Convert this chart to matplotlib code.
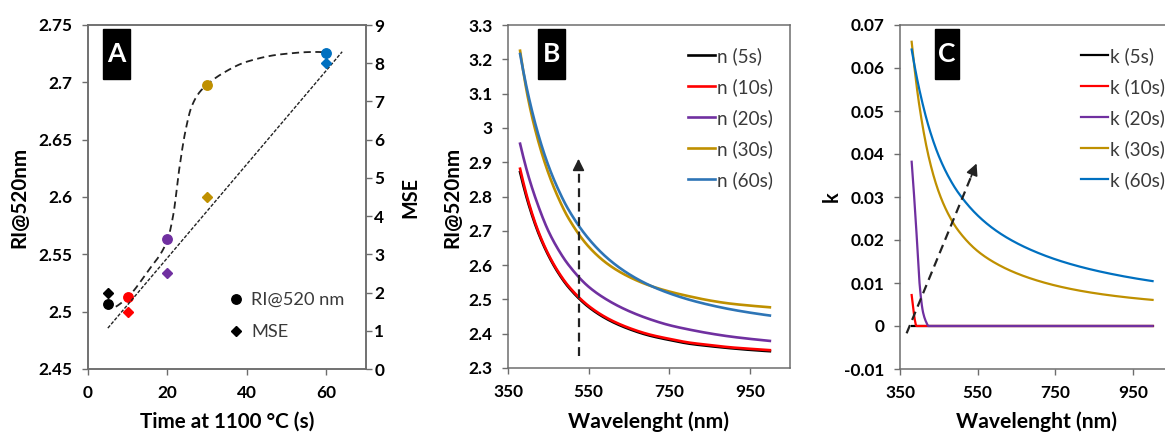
import numpy as np
import matplotlib
matplotlib.use("Agg")
import matplotlib.pyplot as plt
from matplotlib.patches import Rectangle
from matplotlib.lines import Line2D

# ---------------- Panel A data ----------------
time_s = [5, 10, 20, 30, 60]
ri_520 = [2.507, 2.513, 2.563, 2.698, 2.726]
mse = [2.0, 1.5, 2.5, 4.5, 8.0]
point_colors = ['#000000', '#FF0000', '#7030A0', '#BF9000', '#0070C0']
# dashed guide curve
guide_t = [7.0, 10, 15, 20, 21.5, 23, 24.5, 26, 28, 30, 33.5, 40, 48.5, 57, 60]
guide_ri = [2.5043, 2.5125, 2.535, 2.5625, 2.585, 2.625, 2.657, 2.678, 2.691,
            2.698, 2.707, 2.718, 2.7244, 2.7265, 2.7262]
# dotted linear trend on the MSE axis (end points)
trend_t = [5, 64]
trend_mse = [1.07, 8.30]
a_xticks = [0, 20, 40, 60]
a_xticklabels = ['0', '20', '40', '60']
a_yticks = [2.45, 2.5, 2.55, 2.6, 2.65, 2.7, 2.75]
a_yticklabels = ['2.45', '2.5', '2.55', '2.6', '2.65', '2.7', '2.75']
a_y2ticks = [0, 1, 2, 3, 4, 5, 6, 7, 8, 9]
a_y2ticklabels = ['0', '1', '2', '3', '4', '5', '6', '7', '8', '9']

# ---------------- Panel B data ----------------
wl = [380, 400, 425, 450, 475, 500, 550, 600, 650, 700, 750, 800, 850, 900, 950, 1000]
n_5s = [2.871, 2.782, 2.695, 2.629, 2.577, 2.536, 2.478, 2.440, 2.414, 2.395,
        2.382, 2.371, 2.364, 2.358, 2.353, 2.349]
n_10s = [2.881, 2.788, 2.699, 2.632, 2.580, 2.539, 2.481, 2.443, 2.417, 2.398,
         2.385, 2.374, 2.367, 2.3605, 2.356, 2.352]
n_20s = [2.954, 2.8625, 2.773, 2.700, 2.645, 2.601, 2.537, 2.496, 2.466, 2.443,
         2.425, 2.412, 2.401, 2.392, 2.385, 2.379]
n_30s = [3.225, 3.085, 2.962, 2.869, 2.796, 2.737, 2.654, 2.601, 2.566, 2.541,
         2.523, 2.509, 2.497, 2.488, 2.482, 2.477]
n_60s = [3.2155, 3.0976, 2.9816, 2.891, 2.820, 2.762, 2.677, 2.617, 2.574, 2.542,
         2.518, 2.499, 2.484, 2.4716, 2.4615, 2.453]
n_labels = ['n (5s)', 'n (10s)', 'n (20s)', 'n (30s)', 'n (60s)']
b_xticks = [350, 550, 750, 950]
b_xticklabels = ['350', '550', '750', '950']
b_yticks = [2.3, 2.4, 2.5, 2.6, 2.7, 2.8, 2.9, 3.0, 3.1, 3.2, 3.3]
b_yticklabels = ['2.3', '2.4', '2.5', '2.6', '2.7', '2.8', '2.9', '3', '3.1', '3.2', '3.3']
b_arrow_wl = 525
b_arrow_n = [2.335, 2.91]

# ---------------- Panel C data ----------------
k5_wl = [380, 1000]
k_5s = [0.0, 0.0]
k10_wl = [380, 384, 388, 392, 1000]
k_10s = [0.0072, 0.0042, 0.0015, 0.0, 0.0]
k20_wl = [380, 389, 397, 401, 410, 419, 423, 1000]
k_20s = [0.0382, 0.0266, 0.0149, 0.0091, 0.0029, 0.0006, 0.0, 0.0]
k_30s = [0.0661, 0.0511, 0.0389, 0.0311, 0.0259, 0.0222, 0.0174, 0.0144, 0.01226,
         0.01066, 0.00941, 0.00843, 0.00765, 0.00702, 0.0065, 0.00607]
k_60s = [0.0643, 0.0549, 0.0460, 0.0395, 0.0347, 0.0310, 0.0257, 0.0220, 0.0193,
         0.0172, 0.0155, 0.01412, 0.01297, 0.0120, 0.01116, 0.01044]
k_labels = ['k (5s)', 'k (10s)', 'k (20s)', 'k (30s)', 'k (60s)']
c_yticks = [-0.01, 0, 0.01, 0.02, 0.03, 0.04, 0.05, 0.06, 0.07]
c_yticklabels = ['-0.01', '0', '0.01', '0.02', '0.03', '0.04', '0.05', '0.06', '0.07']
c_arrow_wl = [367, 547]
c_arrow_k = [-0.0017, 0.0378]

series_colors = ['#000000', '#FF0000', '#7030A0', '#BF9000', '#2E75B6']
series_colors_c = ['#000000', '#FF0000', '#7030A0', '#BF9000', '#0070C0']


def smooth(x, y, num=400):
    """Monotone cubic (PCHIP-like) smoothing for drawing, like a smoothed line."""
    x = np.asarray(x, float)
    y = np.asarray(y, float)
    if len(x) < 3:
        return x, y
    h = np.diff(x)
    d = np.diff(y) / h
    m = np.zeros_like(y)
    for i in range(1, len(x) - 1):
        if d[i - 1] * d[i] > 0:
            w1 = 2 * h[i] + h[i - 1]
            w2 = h[i] + 2 * h[i - 1]
            m[i] = (w1 + w2) / (w1 / d[i - 1] + w2 / d[i])
    m0 = ((2 * h[0] + h[1]) * d[0] - h[0] * d[1]) / (h[0] + h[1])
    if np.sign(m0) != np.sign(d[0]):
        m0 = 0
    m[0] = m0
    mn = ((2 * h[-1] + h[-2]) * d[-1] - h[-1] * d[-2]) / (h[-1] + h[-2])
    if np.sign(mn) != np.sign(d[-1]):
        mn = 0
    m[-1] = mn
    xn = np.linspace(x[0], x[-1], num)
    idx = np.clip(np.searchsorted(x, xn) - 1, 0, len(h) - 1)
    t = (xn - x[idx]) / h[idx]
    h00 = 2 * t**3 - 3 * t**2 + 1
    h10 = t**3 - 2 * t**2 + t
    h01 = -2 * t**3 + 3 * t**2
    h11 = t**3 - t**2
    yn = h00 * y[idx] + h10 * h[idx] * m[idx] + h01 * y[idx + 1] + h11 * h[idx] * m[idx + 1]
    return xn, yn


plt.rcParams['font.family'] = ['Lato', 'DejaVu Sans']
W, H = 1165, 434
fig = plt.figure(figsize=(W / 100, H / 100), dpi=100)
renderer = fig.canvas.get_renderer()
TICKW = 'bold'


def fit_fs(s, target_px, weight='bold', rotation=0, base=12.0):
    """Font size such that the string spans target_px pixels."""
    t = fig.text(0, 0, s, fontsize=base, fontweight=weight, rotation=rotation)
    bb = t.get_window_extent(renderer)
    t.remove()
    span = bb.height if rotation else bb.width
    return base * target_px / span


def fx(px):
    return px / W


def fy(py):
    return 1 - py / H


def make_axes(l, r, t, b):
    return fig.add_axes([fx(l), fy(b), fx(r) - fx(l), fy(t) - fy(b)])


SPINE = '#6d6d6d'
TICKFS = fit_fs('2.75', 34, weight=TICKW)
LEGFS = fit_fs('n (10s)', 55, weight='normal')
LEGA_FS = fit_fs('RI@520 nm', 93, weight='normal')
TXT = '#3a3a3a'


def style(ax, xt=None, xl=None, yt=None, yl=None):
    for s in ax.spines.values():
        s.set_color(SPINE)
        s.set_linewidth(1.1)
    if xt is not None:
        ax.set_xticks(xt)
        ax.set_xticklabels(xl, fontsize=TICKFS, fontweight=TICKW)
    if yt is not None:
        ax.set_yticks(yt)
        ax.set_yticklabels(yl, fontsize=TICKFS, fontweight=TICKW)
    ax.tick_params(direction='out', length=4.5, width=1.0, color=SPINE, pad=6.5)
    ax.tick_params(axis='x', pad=7)


def legend(ax, handles, labels, x, first_y, pitch, fs, **kw):
    """Legend whose text rows are centred at first_y, first_y+pitch, ... (pixels from top)."""
    ls = 0.6
    leg = None
    for _ in range(4):
        if leg is not None:
            leg.remove()
        leg = ax.legend(handles=handles, labels=labels, loc='upper left',
                        bbox_to_anchor=(fx(x), fy(first_y - 10)),
                        bbox_transform=fig.transFigure, frameon=False,
                        prop={'size': fs, 'weight': 'normal'}, labelspacing=ls,
                        borderpad=0, borderaxespad=0, **kw)
        fig.canvas.draw()
        cys = [(t.get_window_extent(renderer).y0 + t.get_window_extent(renderer).y1) / 2
               for t in leg.get_texts()]
        cur = (cys[0] - cys[-1]) / (len(cys) - 1)
        ls = ls + (pitch - cur) / (fs * 100 / 72)
    want = H - first_y
    shift = (want - cys[0]) / H
    leg.set_bbox_to_anchor((fx(x), fy(first_y - 10) + shift), transform=fig.transFigure)
    for txt in leg.get_texts():
        txt.set_color(TXT)
    return leg


# ---------------- Panel A ----------------
axA = make_axes(88, 366, 25, 369)
axA2 = axA.twinx()
axA.set_xlim(0, 70)
axA.set_ylim(2.45, 2.75)
axA2.set_ylim(0, 9)
gx, gy = smooth(guide_t, guide_ri)
axA.plot(gx, gy, color='#222222', lw=1.3, ls=(0, (4, 2.5)), zorder=2)
axA2.plot(trend_t, trend_mse, color='#222222', lw=1.0, ls=(0, (2.5, 1.2)), zorder=2)
for t, r, m, c in zip(time_s, ri_520, mse, point_colors):
    axA.plot(t, r, 'o', color=c, ms=6.8, zorder=3)
    axA2.plot(t, m, 'D', color=c, ms=4.6, zorder=3)
style(axA, a_xticks, a_xticklabels, a_yticks, a_yticklabels)
style(axA2, None, None, a_y2ticks, a_y2ticklabels)
axA2.tick_params(axis='y', pad=1.5)

# ---------------- Panel B ----------------
axB = make_axes(508, 790, 25, 368)
axB.set_xlim(350, 1050)
axB.set_ylim(2.3, 3.3)
linesB = []
for vals, col in zip([n_5s, n_10s, n_20s, n_30s, n_60s], series_colors):
    sx, sy = smooth(wl, vals)
    linesB += axB.plot(sx, sy, color=col, lw=1.9)
axB.plot([b_arrow_wl, b_arrow_wl], [b_arrow_n[0], b_arrow_n[1] - 0.02], color='#222222',
         lw=1.6, ls=(0, (4, 2.5)))
axB.annotate('', xy=(b_arrow_wl, b_arrow_n[1]), xytext=(b_arrow_wl, b_arrow_n[1] - 0.03),
             arrowprops=dict(arrowstyle='-|>,head_length=0.7,head_width=0.35',
                             color='#222222', lw=1.2, shrinkA=0, shrinkB=0))
style(axB, b_xticks, b_xticklabels, b_yticks, b_yticklabels)

# ---------------- Panel C ----------------
axC = make_axes(900, 1172, 25, 369)
axC.set_xlim(350, 1050)
axC.set_ylim(-0.01, 0.07)
linesC = []
for xs, vals, col in zip([k5_wl, k10_wl, k20_wl, wl, wl],
                         [k_5s, k_10s, k_20s, k_30s, k_60s], series_colors_c):
    sx, sy = smooth(xs, vals)
    linesC += axC.plot(sx, sy, color=col, lw=1.6)
dx = c_arrow_wl[1] - c_arrow_wl[0]
dk = c_arrow_k[1] - c_arrow_k[0]
axC.plot([c_arrow_wl[0], c_arrow_wl[0] + 0.95 * dx], [c_arrow_k[0], c_arrow_k[0] + 0.95 * dk],
         color='#222222', lw=1.6, ls=(0, (4, 2.5)))
axC.annotate('', xy=(c_arrow_wl[1], c_arrow_k[1]),
             xytext=(c_arrow_wl[0] + 0.92 * dx, c_arrow_k[0] + 0.92 * dk),
             arrowprops=dict(arrowstyle='-|>,head_length=0.7,head_width=0.35',
                             color='#222222', lw=1.2, shrinkA=0, shrinkB=0))
style(axC, b_xticks, b_xticklabels, c_yticks, c_yticklabels)

# ---------------- Legends ----------------
legend(axA, [Line2D([], [], ls='', marker='o', color='k', ms=6.8),
             Line2D([], [], ls='', marker='D', color='k', ms=4.6)],
       ['RI@520 nm', 'MSE'], 229, 300, 32, LEGA_FS,
       handlelength=0.8, handletextpad=0.4)
legend(axB, linesB, n_labels, 688, 56, 31, LEGFS, handlelength=1.45, handletextpad=0.1)
legend(axC, linesC, k_labels, 1081, 56, 31, LEGFS, handlelength=1.45, handletextpad=0.1)

# ---------------- Axis titles ----------------
ri_fs = fit_fs('RI@520nm', 101, rotation=90)
mse_fs = fit_fs('MSE', 41, rotation=90)
time_fs = fit_fs('Time at 1100 °C (s)', 173)
wave_fs = fit_fs('Wavelenght (nm)', 160)
fig.text(fx(19), fy(197), 'RI@520nm', rotation=90, ha='center', va='center',
         fontsize=ri_fs, fontweight='bold')
fig.text(fx(410), fy(197), 'MSE', rotation=90, ha='center', va='center',
         fontsize=mse_fs, fontweight='bold')
fig.text(fx(452), fy(197), 'RI@520nm', rotation=90, ha='center', va='center',
         fontsize=ri_fs, fontweight='bold')
fig.text(fx(832), fy(197), 'k', rotation=90, ha='center', va='center',
         fontsize=mse_fs, fontweight='bold')
fig.text(fx(227), fy(422), 'Time at 1100 °C (s)', ha='center', va='center',
         fontsize=time_fs, fontweight='bold')
fig.text(fx(648), fy(422), 'Wavelenght (nm)', ha='center', va='center',
         fontsize=wave_fs, fontweight='bold')
fig.text(fx(1036), fy(422), 'Wavelenght (nm)', ha='center', va='center',
         fontsize=wave_fs, fontweight='bold')

# ---------------- Panel letters ----------------
for letter, x0, x1 in [('A', 102.7, 130), ('B', 537.7, 565), ('C', 935, 959)]:
    fig.add_artist(Rectangle((fx(x0), fy(79)), fx(x1) - fx(x0), fy(29) - fy(79),
                             transform=fig.transFigure, color='black', zorder=5))
    fig.text(fx((x0 + x1) / 2), fy(54), letter, color='white', ha='center',
             va='center', fontsize=19, fontweight='bold', zorder=6)

fig.savefig('out.png', dpi=100)
